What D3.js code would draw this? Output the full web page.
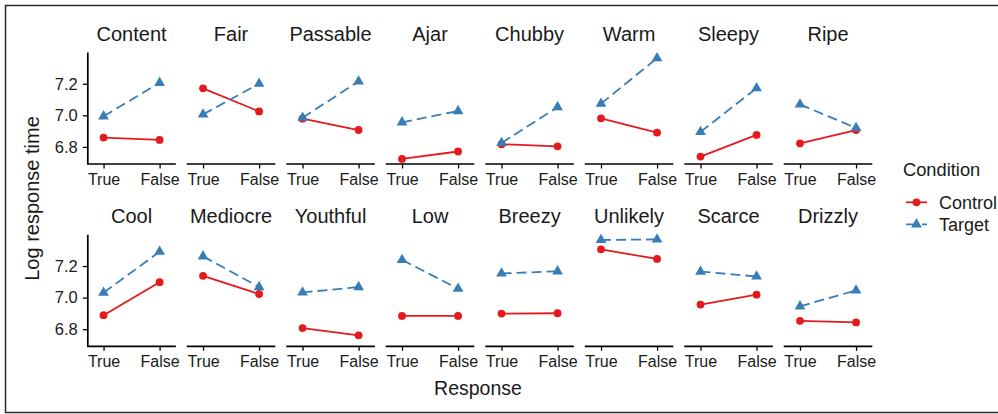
<!DOCTYPE html>
<html><head><meta charset="utf-8">
<script src="https://cdn.jsdelivr.net/npm/d3@7"></script>
<style>body{margin:0;background:#fff}svg{display:block;font-family:"Liberation Sans",Arial,sans-serif}</style>
</head><body><svg id="c" width="998" height="414"></svg>
<script>
const words = ["Content","Fair","Passable","Ajar","Chubby","Warm","Sleepy","Ripe",
               "Cool","Mediocre","Youthful","Low","Breezy","Unlikely","Scarce","Drizzly"];
const responses = ["True","False"];
const conditions = ["Control","Target"];
// [True, False] per word
const controlVals = [
  [6.859,6.844],[7.171,7.025],[6.979,6.907],[6.724,6.771],
  [6.817,6.804],[6.981,6.891],[6.739,6.876],[6.823,6.907],
  [6.889,7.098],[7.138,7.023],[6.807,6.761],[6.884,6.884],
  [6.899,6.901],[7.306,7.245],[6.956,7.019],[6.853,6.843]];
const targetVals = [
  [6.994,7.206],[7.006,7.200],[6.985,7.215],[6.956,7.027],
  [6.825,7.052],[7.074,7.362],[6.895,7.172],[7.069,6.920],
  [7.031,7.291],[7.262,7.067],[7.033,7.067],[7.239,7.057],
  [7.153,7.167],[7.365,7.369],[7.165,7.134],[6.945,7.046]];
const yTicks = [6.8,7.0,7.2];

const colors = {Control:"#E41A1C", Target:"#377EB8"};
const svg = d3.select("#c");
const FONT = "Liberation Sans, Arial, sans-serif";

// outer border
svg.append("rect").attr("x",5.5).attr("y",5.5).attr("width",1000).attr("height",407)
  .attr("fill","none").attr("stroke","#2b2b2b").attr("stroke-width",1.5);

const ncol = 8;
const colScale = d3.scaleBand().domain(d3.range(ncol)).range([87.3,872.3]).paddingInner(0.11).paddingOuter(0);
const rowTops = [52, 234.3];
const panelH = 112;
const all = controlVals.flat().concat(targetVals.flat());
const ext = d3.extent(all);
const pad = (ext[1]-ext[0])*0.05;
const yDomain = [ext[0]-pad, ext[1]+pad];

const lineW = 1.8;
const dash = "10,5";
const triSize = 50;
const circR = 3.9;
words.forEach((w,i)=>{
  const r = Math.floor(i/ncol), c = i%ncol;
  const x0 = colScale(c), bw = colScale.bandwidth();
  const top = rowTops[r];
  const g = svg.append("g");
  const x = d3.scalePoint().domain(responses).range([x0, x0+bw]).padding(0.29);
  const y = d3.scaleLinear().domain(yDomain).range([top+panelH, top]);

  // strip title
  g.append("text").attr("x",x0+bw/2).attr("y",top-11).attr("text-anchor","middle")
    .attr("font-size",20).attr("fill","#1a1a1a").text(w);

  // x axis
  const xa = g.append("g").attr("transform",`translate(0,${top+panelH})`)
    .call(d3.axisBottom(x).tickSize(4.5).tickPadding(5).tickSizeOuter(0));
  xa.select(".domain").attr("stroke","#000").attr("stroke-width",1.7).attr("d",`M${x0},0H${x0+bw}`);
  xa.selectAll(".tick line").attr("stroke","#000").attr("stroke-width",1.3);
  xa.selectAll(".tick text").attr("font-size",16).attr("fill","#1a1a1a").attr("font-family",FONT);

  if (c===0){
    const ya = g.append("g").attr("transform",`translate(${x0},0)`)
      .call(d3.axisLeft(y).tickValues(yTicks).tickFormat(d3.format(".1f")).tickSize(4.5).tickPadding(5).tickSizeOuter(0));
    ya.select(".domain").attr("stroke","#000").attr("stroke-width",1.7);
    ya.selectAll(".tick line").attr("stroke","#000").attr("stroke-width",1.3);
    ya.selectAll(".tick text").attr("font-size",16.5).attr("fill","#1a1a1a").attr("font-family",FONT);
  }

  const series = [["Control",controlVals[i]],["Target",targetVals[i]]];
  series.forEach(([cond,vals])=>{
    const pts = responses.map((rr,k)=>[x(rr), y(vals[k])]);
    g.append("path").attr("d",d3.line()(pts)).attr("fill","none")
      .attr("stroke",colors[cond]).attr("stroke-width",lineW)
      .attr("stroke-dasharray", cond==="Target" ? dash : null);
    pts.forEach(p=>{
      if (cond==="Control"){
        g.append("circle").attr("cx",p[0]).attr("cy",p[1]).attr("r",circR).attr("fill",colors[cond]);
      } else {
        g.append("path").attr("d",d3.symbol(d3.symbolTriangle,triSize)()).attr("transform",`translate(${p[0]},${p[1]})`).attr("fill",colors[cond]);
      }
    });
  });
});

// axis titles
svg.append("text").attr("x",478).attr("y",395).attr("text-anchor","middle").attr("font-size",19.5).attr("fill","#1a1a1a").text("Response");
svg.append("text").attr("transform","translate(39,198.5) rotate(-90)").attr("text-anchor","middle").attr("font-size",20).attr("fill","#1a1a1a").text("Log response time");

// legend
const lg = svg.append("g");
lg.append("text").attr("x",903).attr("y",176).attr("font-size",18.3).attr("fill","#1a1a1a").text("Condition");
conditions.forEach((cond,k)=>{
  const cy = 202.3 + k*22;
  lg.append("line").attr("x1",906).attr("x2",927).attr("y1",cy).attr("y2",cy)
    .attr("stroke",colors[cond]).attr("stroke-width",lineW).attr("stroke-dasharray",cond==="Target"?"11,5":null);
  if (cond==="Control") lg.append("circle").attr("cx",916.5).attr("cy",cy).attr("r",circR).attr("fill",colors[cond]);
  else lg.append("path").attr("d",d3.symbol(d3.symbolTriangle,triSize)()).attr("transform",`translate(916.5,${cy})`).attr("fill",colors[cond]);
  lg.append("text").attr("x",939).attr("y",cy+6.5).attr("font-size",18).attr("fill","#1a1a1a").text(cond);
});
</script></body></html>
